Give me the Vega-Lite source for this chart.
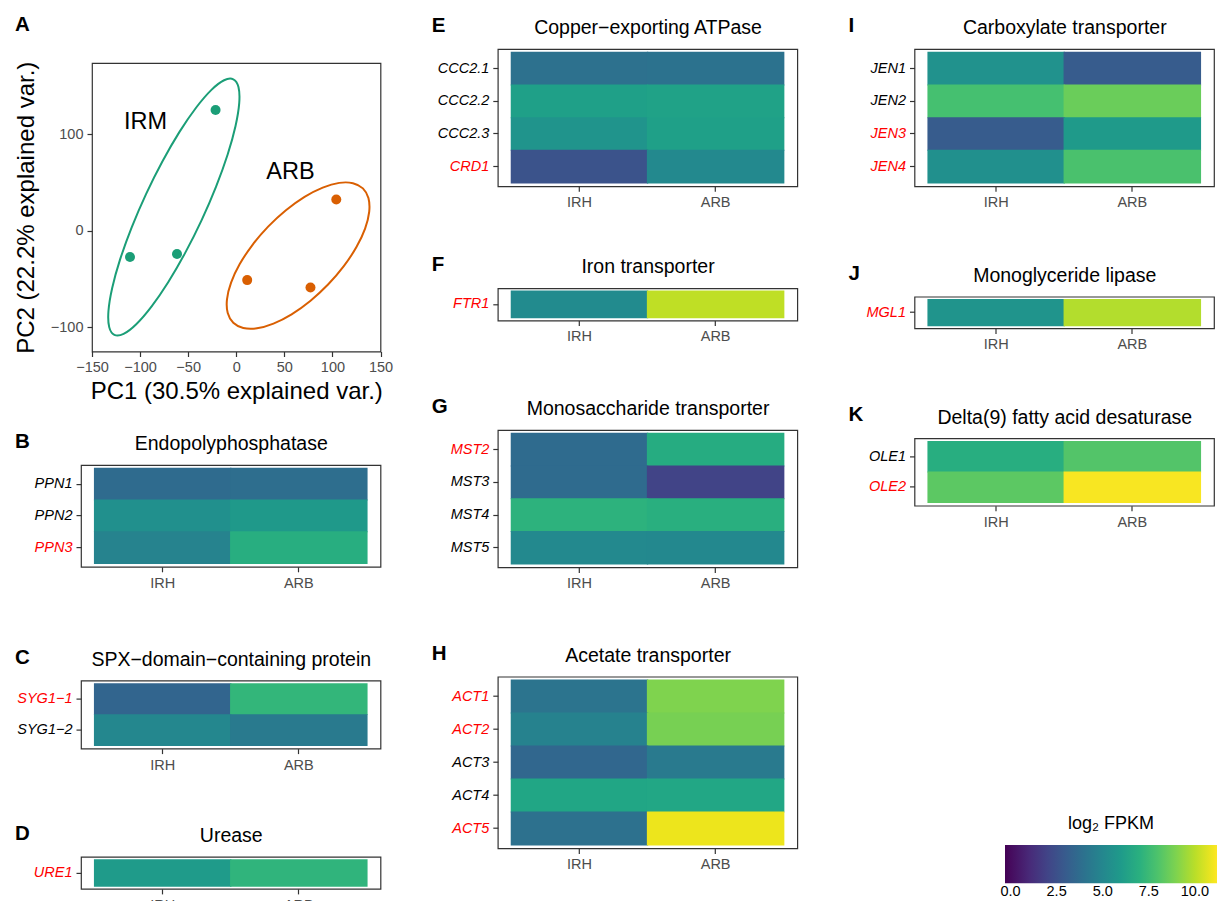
{
  "$schema": "https://vega.github.io/schema/vega-lite/v6.json",
  "background": "white",
  "padding": {"left": 12, "top": 13, "right": 5, "bottom": 5},
  "config": {
    "font": "Liberation Sans",
    "view": {"stroke": "#333333", "strokeWidth": 1.2},
    "axis": {"grid": false, "domain": false, "tickColor": "#333333", "tickWidth": 1.2, "tickSize": 5, "labelFont": "Liberation Sans", "labelFontSize": 14.5, "labelColor": "#4d4d4d", "titleFont": "Liberation Sans", "titleColor": "black", "titleFontWeight": "normal"},
    "axisX": {"labelPadding": 4.4, "labelAngle": 0},
    "axisY": {"labelPadding": 4},
    "legend": {"padding": 0, "titleFontSize": 18, "titleFontWeight": "normal", "titleColor": "black", "titleAnchor": "middle", "titlePadding": 11.7, "gradientLength": 212, "gradientThickness": 38.3, "gradientStrokeWidth": 0, "labelFontSize": 14.5, "labelColor": "black", "labelOffset": 3.8, "labelAlign": "center", "labelFont": "Liberation Sans", "titleFont": "Liberation Sans"}
  },
  "datasets": {
    "pca_points": [
      {"pc1": -21.5, "pc2": 125.3, "group": "IRM"},
      {"pc1": -110.5, "pc2": -27.3, "group": "IRM"},
      {"pc1": -61.6, "pc2": -24.2, "group": "IRM"},
      {"pc1": 11.4, "pc2": -51.2, "group": "ARB"},
      {"pc1": 77.2, "pc2": -58.9, "group": "ARB"},
      {"pc1": 104.0, "pc2": 32.5, "group": "ARB"}
    ],
    "pca_labels": [
      {"pc1": -94.4, "pc2": 105.6, "label": "IRM"},
      {"pc1": 56.3, "pc2": 53.7, "label": "ARB"}
    ],
    "pca_ellipse": [
      {"group": "IRM", "ord": 0, "pc1": -3.07, "pc2": 157.2},
      {"group": "IRM", "ord": 1, "pc1": -12.66, "pc2": 156.2},
      {"group": "IRM", "ord": 2, "pc1": -25.81, "pc2": 146.2},
      {"group": "IRM", "ord": 3, "pc1": -41.62, "pc2": 127.9},
      {"group": "IRM", "ord": 4, "pc1": -59.02, "pc2": 102.6},
      {"group": "IRM", "ord": 5, "pc1": -76.82, "pc2": 71.9},
      {"group": "IRM", "ord": 6, "pc1": -93.81, "pc2": 38.1},
      {"group": "IRM", "ord": 7, "pc1": -108.82, "pc2": 3.3},
      {"group": "IRM", "ord": 8, "pc1": -120.86, "pc2": -30.0},
      {"group": "IRM", "ord": 9, "pc1": -129.06, "pc2": -59.6},
      {"group": "IRM", "ord": 10, "pc1": -132.91, "pc2": -83.5},
      {"group": "IRM", "ord": 11, "pc1": -132.10, "pc2": -100.0},
      {"group": "IRM", "ord": 12, "pc1": -126.73, "pc2": -108.0},
      {"group": "IRM", "ord": 13, "pc1": -117.14, "pc2": -107.0},
      {"group": "IRM", "ord": 14, "pc1": -103.99, "pc2": -97.0},
      {"group": "IRM", "ord": 15, "pc1": -88.18, "pc2": -78.7},
      {"group": "IRM", "ord": 16, "pc1": -70.78, "pc2": -53.4},
      {"group": "IRM", "ord": 17, "pc1": -52.98, "pc2": -22.7},
      {"group": "IRM", "ord": 18, "pc1": -35.99, "pc2": 11.1},
      {"group": "IRM", "ord": 19, "pc1": -20.98, "pc2": 45.9},
      {"group": "IRM", "ord": 20, "pc1": -8.94, "pc2": 79.2},
      {"group": "IRM", "ord": 21, "pc1": -0.74, "pc2": 108.8},
      {"group": "IRM", "ord": 22, "pc1": 3.11, "pc2": 132.7},
      {"group": "IRM", "ord": 23, "pc1": 2.30, "pc2": 149.2},
      {"group": "ARB", "ord": 0, "pc1": 131.69, "pc2": 44.0},
      {"group": "ARB", "ord": 1, "pc1": 121.33, "pc2": 49.4},
      {"group": "ARB", "ord": 2, "pc1": 107.08, "pc2": 49.7},
      {"group": "ARB", "ord": 3, "pc1": 89.92, "pc2": 44.8},
      {"group": "ARB", "ord": 4, "pc1": 71.02, "pc2": 35.2},
      {"group": "ARB", "ord": 5, "pc1": 51.65, "pc2": 21.3},
      {"group": "ARB", "ord": 6, "pc1": 33.15, "pc2": 4.3},
      {"group": "ARB", "ord": 7, "pc1": 16.77, "pc2": -14.8},
      {"group": "ARB", "ord": 8, "pc1": 3.62, "pc2": -34.6},
      {"group": "ARB", "ord": 9, "pc1": -5.38, "pc2": -53.8},
      {"group": "ARB", "ord": 10, "pc1": -9.64, "pc2": -71.1},
      {"group": "ARB", "ord": 11, "pc1": -8.85, "pc2": -85.4},
      {"group": "ARB", "ord": 12, "pc1": -3.09, "pc2": -95.5},
      {"group": "ARB", "ord": 13, "pc1": 7.27, "pc2": -100.9},
      {"group": "ARB", "ord": 14, "pc1": 21.52, "pc2": -101.2},
      {"group": "ARB", "ord": 15, "pc1": 38.68, "pc2": -96.3},
      {"group": "ARB", "ord": 16, "pc1": 57.58, "pc2": -86.7},
      {"group": "ARB", "ord": 17, "pc1": 76.95, "pc2": -72.8},
      {"group": "ARB", "ord": 18, "pc1": 95.45, "pc2": -55.8},
      {"group": "ARB", "ord": 19, "pc1": 111.83, "pc2": -36.7},
      {"group": "ARB", "ord": 20, "pc1": 124.98, "pc2": -16.9},
      {"group": "ARB", "ord": 21, "pc1": 133.98, "pc2": 2.3},
      {"group": "ARB", "ord": 22, "pc1": 138.24, "pc2": 19.6},
      {"group": "ARB", "ord": 23, "pc1": 137.45, "pc2": 33.9}
    ],
    "expr": [
      {"panel": "B", "gene": "PPN1", "group": "IRH", "log2fpkm": 3.7},
      {"panel": "B", "gene": "PPN1", "group": "ARB", "log2fpkm": 3.8},
      {"panel": "B", "gene": "PPN2", "group": "IRH", "log2fpkm": 5.4},
      {"panel": "B", "gene": "PPN2", "group": "ARB", "log2fpkm": 5.9},
      {"panel": "B", "gene": "PPN3", "group": "IRH", "log2fpkm": 4.8},
      {"panel": "B", "gene": "PPN3", "group": "ARB", "log2fpkm": 6.9},
      {"panel": "C", "gene": "SYG1−1", "group": "IRH", "log2fpkm": 3.4},
      {"panel": "C", "gene": "SYG1−1", "group": "ARB", "log2fpkm": 7.3},
      {"panel": "C", "gene": "SYG1−2", "group": "IRH", "log2fpkm": 5.0},
      {"panel": "C", "gene": "SYG1−2", "group": "ARB", "log2fpkm": 4.4},
      {"panel": "D", "gene": "URE1", "group": "IRH", "log2fpkm": 6.0},
      {"panel": "D", "gene": "URE1", "group": "ARB", "log2fpkm": 7.2},
      {"panel": "E", "gene": "CCC2.1", "group": "IRH", "log2fpkm": 3.95},
      {"panel": "E", "gene": "CCC2.1", "group": "ARB", "log2fpkm": 4.0},
      {"panel": "E", "gene": "CCC2.2", "group": "IRH", "log2fpkm": 6.2},
      {"panel": "E", "gene": "CCC2.2", "group": "ARB", "log2fpkm": 6.3},
      {"panel": "E", "gene": "CCC2.3", "group": "IRH", "log2fpkm": 5.6},
      {"panel": "E", "gene": "CCC2.3", "group": "ARB", "log2fpkm": 6.2},
      {"panel": "E", "gene": "CRD1", "group": "IRH", "log2fpkm": 2.6},
      {"panel": "E", "gene": "CRD1", "group": "ARB", "log2fpkm": 5.1},
      {"panel": "F", "gene": "FTR1", "group": "IRH", "log2fpkm": 5.2},
      {"panel": "F", "gene": "FTR1", "group": "ARB", "log2fpkm": 10.1},
      {"panel": "G", "gene": "MST2", "group": "IRH", "log2fpkm": 3.7},
      {"panel": "G", "gene": "MST2", "group": "ARB", "log2fpkm": 6.8},
      {"panel": "G", "gene": "MST3", "group": "IRH", "log2fpkm": 3.7},
      {"panel": "G", "gene": "MST3", "group": "ARB", "log2fpkm": 2.0},
      {"panel": "G", "gene": "MST4", "group": "IRH", "log2fpkm": 7.1},
      {"panel": "G", "gene": "MST4", "group": "ARB", "log2fpkm": 6.95},
      {"panel": "G", "gene": "MST5", "group": "IRH", "log2fpkm": 5.1},
      {"panel": "G", "gene": "MST5", "group": "ARB", "log2fpkm": 5.05},
      {"panel": "H", "gene": "ACT1", "group": "IRH", "log2fpkm": 4.1},
      {"panel": "H", "gene": "ACT1", "group": "ARB", "log2fpkm": 9.0},
      {"panel": "H", "gene": "ACT2", "group": "IRH", "log2fpkm": 4.75},
      {"panel": "H", "gene": "ACT2", "group": "ARB", "log2fpkm": 8.85},
      {"panel": "H", "gene": "ACT3", "group": "IRH", "log2fpkm": 3.5},
      {"panel": "H", "gene": "ACT3", "group": "ARB", "log2fpkm": 4.4},
      {"panel": "H", "gene": "ACT4", "group": "IRH", "log2fpkm": 6.5},
      {"panel": "H", "gene": "ACT4", "group": "ARB", "log2fpkm": 6.55},
      {"panel": "H", "gene": "ACT5", "group": "IRH", "log2fpkm": 3.95},
      {"panel": "H", "gene": "ACT5", "group": "ARB", "log2fpkm": 10.9},
      {"panel": "I", "gene": "JEN1", "group": "IRH", "log2fpkm": 5.5},
      {"panel": "I", "gene": "JEN1", "group": "ARB", "log2fpkm": 3.0},
      {"panel": "I", "gene": "JEN2", "group": "IRH", "log2fpkm": 7.8},
      {"panel": "I", "gene": "JEN2", "group": "ARB", "log2fpkm": 8.6},
      {"panel": "I", "gene": "JEN3", "group": "IRH", "log2fpkm": 3.0},
      {"panel": "I", "gene": "JEN3", "group": "ARB", "log2fpkm": 5.95},
      {"panel": "I", "gene": "JEN4", "group": "IRH", "log2fpkm": 5.4},
      {"panel": "I", "gene": "JEN4", "group": "ARB", "log2fpkm": 7.9},
      {"panel": "J", "gene": "MGL1", "group": "IRH", "log2fpkm": 5.6},
      {"panel": "J", "gene": "MGL1", "group": "ARB", "log2fpkm": 9.9},
      {"panel": "K", "gene": "OLE1", "group": "IRH", "log2fpkm": 6.9},
      {"panel": "K", "gene": "OLE1", "group": "ARB", "log2fpkm": 8.1},
      {"panel": "K", "gene": "OLE2", "group": "IRH", "log2fpkm": 8.3},
      {"panel": "K", "gene": "OLE2", "group": "ARB", "log2fpkm": 11.1}
    ]
  },
  "spacing": 35.8,
  "hconcat": [
    {
      "spacing": 0,
      "vconcat": [
        {"width": 1, "height": 1, "data": {"values": []}, "mark": "point", "view": {"stroke": null}},
        {
          "spacing": 26.1,
          "vconcat": [
            {
              "spacing": 0,
              "hconcat": [
                {"width": 1, "height": 1, "data": {"values": []}, "mark": "point", "view": {"stroke": null}},
                {
                  "width": 288.5,
                  "height": 288.5,
                  "layer": [
                    {
                      "data": {"name": "pca_ellipse"},
                      "transform": [{"filter": "datum.group === 'IRM'"}],
                      "mark": {"type": "line", "interpolate": "cardinal-closed", "strokeWidth": 2, "color": "#1b9e77"},
                      "encoding": {
                        "x": {"field": "pc1", "type": "quantitative", "scale": {"domain": [-150, 150], "nice": false, "zero": false}, "axis": {"orient": "bottom", "values": [-150, -100, -50, 0, 50, 100, 150], "labelFlush": false, "title": "PC1 (30.5% explained var.)", "titleFontSize": 24, "titleBaseline": "alphabetic", "titleY": 46.6}},
                        "y": {"field": "pc2", "type": "quantitative", "scale": {"domain": [-125.3, 174.1], "nice": false, "zero": false}, "axis": {"orient": "left", "values": [-100, 0, 100], "title": "PC2 (22.2% explained var.)", "titleFontSize": 24, "titleBaseline": "alphabetic", "titleX": -58.5}},
                        "order": {"field": "ord", "type": "quantitative"}
                      }
                    },
                    {
                      "data": {"name": "pca_ellipse"},
                      "transform": [{"filter": "datum.group === 'ARB'"}],
                      "mark": {"type": "line", "interpolate": "cardinal-closed", "strokeWidth": 2, "color": "#d95f02"},
                      "encoding": {
                        "x": {"field": "pc1", "type": "quantitative", "scale": {"domain": [-150, 150], "nice": false, "zero": false}, "axis": null},
                        "y": {"field": "pc2", "type": "quantitative", "scale": {"domain": [-125.3, 174.1], "nice": false, "zero": false}, "axis": {"orient": "left", "values": [-100, 0, 100], "title": "PC2 (22.2% explained var.)", "titleFontSize": 24, "titleBaseline": "alphabetic", "titleX": -58.5}},
                        "order": {"field": "ord", "type": "quantitative"}
                      }
                    },
                    {
                      "data": {"name": "pca_points"},
                      "mark": {"type": "circle", "size": 100, "opacity": 1},
                      "encoding": {
                        "x": {"field": "pc1", "type": "quantitative", "scale": {"domain": [-150, 150], "nice": false, "zero": false}, "axis": null},
                        "y": {"field": "pc2", "type": "quantitative", "scale": {"domain": [-125.3, 174.1], "nice": false, "zero": false}, "axis": {"orient": "left", "values": [-100, 0, 100], "title": "PC2 (22.2% explained var.)", "titleFontSize": 24, "titleBaseline": "alphabetic", "titleX": -58.5}},
                        "fill": {"field": "group", "type": "nominal", "scale": {"domain": ["IRM", "ARB"], "range": ["#1b9e77", "#d95f02"]}, "legend": null}
                      }
                    },
                    {
                      "data": {"name": "pca_labels"},
                      "mark": {"type": "text", "fontSize": 23.5, "align": "center", "baseline": "alphabetic", "color": "black", "font": "Liberation Sans"},
                      "encoding": {
                        "x": {"field": "pc1", "type": "quantitative", "scale": {"domain": [-150, 150], "nice": false, "zero": false}, "axis": null},
                        "y": {"field": "pc2", "type": "quantitative", "scale": {"domain": [-125.3, 174.1], "nice": false, "zero": false}, "axis": {"orient": "left", "values": [-100, 0, 100], "title": "PC2 (22.2% explained var.)", "titleFontSize": 24, "titleBaseline": "alphabetic", "titleX": -58.5}},
                        "text": {"field": "label", "type": "nominal"}
                      }
                    },
                    {
                      "data": {"name": "pca_labels"},
                      "mark": {"type": "point", "opacity": 0},
                      "encoding": {
                        "x": {"field": "pc1", "type": "quantitative", "scale": {"domain": [-150, 150], "nice": false, "zero": false}, "axis": {"orient": "top", "title": "A", "labels": false, "ticks": false, "domain": false, "titleX": -77.4, "titleY": -32.3, "titleAngle": 0, "titleAlign": "left", "titleBaseline": "alphabetic", "titleFontSize": 20.5, "titleFontWeight": "bold"}}
                      }
                    }
                  ]
                }
              ]
            },
            {
              "spacing": 0,
              "hconcat": [
                {"width": 1, "height": 1, "data": {"values": []}, "mark": "point", "view": {"stroke": null}},
                {
                  "spacing": 54.5,
                  "vconcat": [
                    {
                      "width": 299.5, "height": 101.7,
                      "data": {"name": "expr"},
                      "transform": [{"filter": "datum.panel === 'B'"}],
                      "layer": [
                        {"mark": {"type": "rect", "width": {"band": 1.01}, "height": {"band": 1.03}},
                         "encoding": {
                           "x": {"field": "group", "type": "nominal", "sort": ["IRH", "ARB"], "scale": {"paddingInner": 0, "paddingOuter": 0.1}, "axis": {"orient": "bottom", "title": null}},
                           "y": {"field": "gene", "type": "nominal", "sort": null, "scale": {"paddingInner": 0, "paddingOuter": 0.1}, "axis": {"title": "B", "titleX": -66.5, "titleY": -17.6, "titleAngle": 0, "titleAlign": "left", "titleBaseline": "alphabetic", "titleFontSize": 20.5, "titleFontWeight": "bold", "labelFontStyle": "italic", "labelColor": {"condition": {"test": "indexof(['PPN3'], datum.value) >= 0", "value": "red"}, "value": "black"}}},
                           "color": {"field": "log2fpkm", "type": "quantitative", "title": "log₂ FPKM", "scale": {"scheme": "viridis", "domain": [-0.3, 11.2]}, "legend": {"orient": "none", "legendX": 993, "legendY": 802.3, "direction": "horizontal", "title": "log₂ FPKM", "values": [0, 2.5, 5, 7.5, 10], "format": ".1f"}}
                         }},
                        {"mark": {"type": "rect", "opacity": 0},
                         "encoding": {
                           "x": {"field": "group", "type": "nominal", "sort": ["IRH", "ARB"], "axis": {"orient": "top", "title": "Endopolyphosphatase", "labels": false, "ticks": false, "domain": false, "titleY": -15.4, "titleBaseline": "alphabetic", "titleFontSize": 19.5}}
                         }}
                      ]
                    },
                    {
                      "spacing": 108.3,
                      "bounds": "flush",
                      "vconcat": [
                        {
                          "width": 299.5, "height": 68,
                          "data": {"name": "expr"},
                          "transform": [{"filter": "datum.panel === 'C'"}],
                          "layer": [
                            {"mark": {"type": "rect", "width": {"band": 1.01}, "height": {"band": 1.03}},
                             "encoding": {
                               "x": {"field": "group", "type": "nominal", "sort": ["IRH", "ARB"], "scale": {"paddingInner": 0, "paddingOuter": 0.1}, "axis": {"orient": "bottom", "title": null}},
                               "y": {"field": "gene", "type": "nominal", "sort": null, "scale": {"paddingInner": 0, "paddingOuter": 0.1}, "axis": {"title": "C", "titleX": -66.5, "titleY": -17.6, "titleAngle": 0, "titleAlign": "left", "titleBaseline": "alphabetic", "titleFontSize": 20.5, "titleFontWeight": "bold", "labelFontStyle": "italic", "labelColor": {"condition": {"test": "indexof(['SYG1−1'], datum.value) >= 0", "value": "red"}, "value": "black"}}},
                               "color": {"field": "log2fpkm", "type": "quantitative", "title": "log₂ FPKM", "scale": {"scheme": "viridis", "domain": [-0.3, 11.2]}, "legend": {"orient": "none", "legendX": 993, "legendY": 802.3, "direction": "horizontal", "title": "log₂ FPKM", "values": [0, 2.5, 5, 7.5, 10], "format": ".1f"}}
                             }},
                            {"mark": {"type": "rect", "opacity": 0},
                             "encoding": {
                               "x": {"field": "group", "type": "nominal", "sort": ["IRH", "ARB"], "axis": {"orient": "top", "title": "SPX−domain−containing protein", "labels": false, "ticks": false, "domain": false, "titleY": -15.4, "titleBaseline": "alphabetic", "titleFontSize": 19.5}}
                             }}
                          ]
                        },
                        {
                          "width": 299.5, "height": 32,
                          "data": {"name": "expr"},
                          "transform": [{"filter": "datum.panel === 'D'"}],
                          "layer": [
                            {"mark": {"type": "rect", "width": {"band": 1.01}, "height": {"band": 1.03}},
                             "encoding": {
                               "x": {"field": "group", "type": "nominal", "sort": ["IRH", "ARB"], "scale": {"paddingInner": 0, "paddingOuter": 0.1}, "axis": {"orient": "bottom", "title": null}},
                               "y": {"field": "gene", "type": "nominal", "sort": null, "scale": {"paddingInner": 0, "paddingOuter": 0.1}, "axis": {"title": "D", "titleX": -66.5, "titleY": -17.6, "titleAngle": 0, "titleAlign": "left", "titleBaseline": "alphabetic", "titleFontSize": 20.5, "titleFontWeight": "bold", "labelFontStyle": "italic", "labelColor": {"condition": {"test": "indexof(['URE1'], datum.value) >= 0", "value": "red"}, "value": "black"}}},
                               "color": {"field": "log2fpkm", "type": "quantitative", "title": "log₂ FPKM", "scale": {"scheme": "viridis", "domain": [-0.3, 11.2]}, "legend": {"orient": "none", "legendX": 993, "legendY": 802.3, "direction": "horizontal", "title": "log₂ FPKM", "values": [0, 2.5, 5, 7.5, 10], "format": ".1f"}}
                             }},
                            {"mark": {"type": "rect", "opacity": 0},
                             "encoding": {
                               "x": {"field": "group", "type": "nominal", "sort": ["IRH", "ARB"], "axis": {"orient": "top", "title": "Urease", "labels": false, "ticks": false, "domain": false, "titleY": -15.4, "titleBaseline": "alphabetic", "titleFontSize": 19.5}}
                             }}
                          ]
                        }
                      ]
                    }
                  ]
                }
              ]
            }
          ]
        }
      ]
    },
    {
      "spacing": 47.7,
      "hconcat": [
        {
          "spacing": 0,
          "vconcat": [
            {"width": 1, "height": 1, "data": {"values": []}, "mark": "point", "view": {"stroke": null}},
            {
              "spacing": 43.3,
              "vconcat": [
                {
                  "width": 299.5, "height": 137.3,
                  "data": {"name": "expr"},
                  "transform": [{"filter": "datum.panel === 'E'"}],
                  "layer": [
                    {"mark": {"type": "rect", "width": {"band": 1.01}, "height": {"band": 1.03}},
                     "encoding": {
                       "x": {"field": "group", "type": "nominal", "sort": ["IRH", "ARB"], "scale": {"paddingInner": 0, "paddingOuter": 0.1}, "axis": {"orient": "bottom", "title": null}},
                       "y": {"field": "gene", "type": "nominal", "sort": null, "scale": {"paddingInner": 0, "paddingOuter": 0.1}, "axis": {"title": "E", "titleX": -66.5, "titleY": -17.6, "titleAngle": 0, "titleAlign": "left", "titleBaseline": "alphabetic", "titleFontSize": 20.5, "titleFontWeight": "bold", "labelFontStyle": "italic", "labelColor": {"condition": {"test": "indexof(['CRD1'], datum.value) >= 0", "value": "red"}, "value": "black"}}},
                       "color": {"field": "log2fpkm", "type": "quantitative", "title": "log₂ FPKM", "scale": {"scheme": "viridis", "domain": [-0.3, 11.2]}, "legend": {"orient": "none", "legendX": 993, "legendY": 802.3, "direction": "horizontal", "title": "log₂ FPKM", "values": [0, 2.5, 5, 7.5, 10], "format": ".1f"}}
                     }},
                    {"mark": {"type": "rect", "opacity": 0},
                     "encoding": {
                       "x": {"field": "group", "type": "nominal", "sort": ["IRH", "ARB"], "axis": {"orient": "top", "title": "Copper−exporting ATPase", "labels": false, "ticks": false, "domain": false, "titleY": -15.4, "titleBaseline": "alphabetic", "titleFontSize": 19.5}}
                     }}
                  ]
                },
                {
                  "spacing": 108.7,
                  "bounds": "flush",
                  "vconcat": [
                    {
                      "width": 299.5, "height": 32.3,
                      "data": {"name": "expr"},
                      "transform": [{"filter": "datum.panel === 'F'"}],
                      "layer": [
                        {"mark": {"type": "rect", "width": {"band": 1.01}, "height": {"band": 1.03}},
                         "encoding": {
                           "x": {"field": "group", "type": "nominal", "sort": ["IRH", "ARB"], "scale": {"paddingInner": 0, "paddingOuter": 0.1}, "axis": {"orient": "bottom", "title": null}},
                           "y": {"field": "gene", "type": "nominal", "sort": null, "scale": {"paddingInner": 0, "paddingOuter": 0.1}, "axis": {"title": "F", "titleX": -66.5, "titleY": -17.6, "titleAngle": 0, "titleAlign": "left", "titleBaseline": "alphabetic", "titleFontSize": 20.5, "titleFontWeight": "bold", "labelFontStyle": "italic", "labelColor": {"condition": {"test": "indexof(['FTR1'], datum.value) >= 0", "value": "red"}, "value": "black"}}},
                           "color": {"field": "log2fpkm", "type": "quantitative", "title": "log₂ FPKM", "scale": {"scheme": "viridis", "domain": [-0.3, 11.2]}, "legend": {"orient": "none", "legendX": 993, "legendY": 802.3, "direction": "horizontal", "title": "log₂ FPKM", "values": [0, 2.5, 5, 7.5, 10], "format": ".1f"}}
                         }},
                        {"mark": {"type": "rect", "opacity": 0},
                         "encoding": {
                           "x": {"field": "group", "type": "nominal", "sort": ["IRH", "ARB"], "axis": {"orient": "top", "title": "Iron transporter", "labels": false, "ticks": false, "domain": false, "titleY": -15.4, "titleBaseline": "alphabetic", "titleFontSize": 19.5}}
                         }}
                      ]
                    },
                    {
                      "width": 299.5, "height": 137.4,
                      "data": {"name": "expr"},
                      "transform": [{"filter": "datum.panel === 'G'"}],
                      "layer": [
                        {"mark": {"type": "rect", "width": {"band": 1.01}, "height": {"band": 1.03}},
                         "encoding": {
                           "x": {"field": "group", "type": "nominal", "sort": ["IRH", "ARB"], "scale": {"paddingInner": 0, "paddingOuter": 0.1}, "axis": {"orient": "bottom", "title": null}},
                           "y": {"field": "gene", "type": "nominal", "sort": null, "scale": {"paddingInner": 0, "paddingOuter": 0.1}, "axis": {"title": "G", "titleX": -66.5, "titleY": -17.6, "titleAngle": 0, "titleAlign": "left", "titleBaseline": "alphabetic", "titleFontSize": 20.5, "titleFontWeight": "bold", "labelFontStyle": "italic", "labelColor": {"condition": {"test": "indexof(['MST2'], datum.value) >= 0", "value": "red"}, "value": "black"}}},
                           "color": {"field": "log2fpkm", "type": "quantitative", "title": "log₂ FPKM", "scale": {"scheme": "viridis", "domain": [-0.3, 11.2]}, "legend": {"orient": "none", "legendX": 993, "legendY": 802.3, "direction": "horizontal", "title": "log₂ FPKM", "values": [0, 2.5, 5, 7.5, 10], "format": ".1f"}}
                         }},
                        {"mark": {"type": "rect", "opacity": 0},
                         "encoding": {
                           "x": {"field": "group", "type": "nominal", "sort": ["IRH", "ARB"], "axis": {"orient": "top", "title": "Monosaccharide transporter", "labels": false, "ticks": false, "domain": false, "titleY": -15.4, "titleBaseline": "alphabetic", "titleFontSize": 19.5}}
                         }}
                      ]
                    },
                    {
                      "width": 299.5, "height": 171.7,
                      "data": {"name": "expr"},
                      "transform": [{"filter": "datum.panel === 'H'"}],
                      "layer": [
                        {"mark": {"type": "rect", "width": {"band": 1.01}, "height": {"band": 1.03}},
                         "encoding": {
                           "x": {"field": "group", "type": "nominal", "sort": ["IRH", "ARB"], "scale": {"paddingInner": 0, "paddingOuter": 0.1}, "axis": {"orient": "bottom", "title": null}},
                           "y": {"field": "gene", "type": "nominal", "sort": null, "scale": {"paddingInner": 0, "paddingOuter": 0.1}, "axis": {"title": "H", "titleX": -66.5, "titleY": -17.6, "titleAngle": 0, "titleAlign": "left", "titleBaseline": "alphabetic", "titleFontSize": 20.5, "titleFontWeight": "bold", "labelFontStyle": "italic", "labelColor": {"condition": {"test": "indexof(['ACT1','ACT2','ACT5'], datum.value) >= 0", "value": "red"}, "value": "black"}}},
                           "color": {"field": "log2fpkm", "type": "quantitative", "title": "log₂ FPKM", "scale": {"scheme": "viridis", "domain": [-0.3, 11.2]}, "legend": {"orient": "none", "legendX": 993, "legendY": 802.3, "direction": "horizontal", "title": "log₂ FPKM", "values": [0, 2.5, 5, 7.5, 10], "format": ".1f"}}
                         }},
                        {"mark": {"type": "rect", "opacity": 0},
                         "encoding": {
                           "x": {"field": "group", "type": "nominal", "sort": ["IRH", "ARB"], "axis": {"orient": "top", "title": "Acetate transporter", "labels": false, "ticks": false, "domain": false, "titleY": -15.4, "titleBaseline": "alphabetic", "titleFontSize": 19.5}}
                         }}
                      ]
                    }
                  ]
                }
              ]
            }
          ]
        },
        {
          "spacing": 0,
          "vconcat": [
            {"width": 1, "height": 1, "data": {"values": []}, "mark": "point", "view": {"stroke": null}},
            {
              "spacing": 109.7,
              "bounds": "flush",
              "vconcat": [
                {
                  "width": 299.5, "height": 137.3,
                  "data": {"name": "expr"},
                  "transform": [{"filter": "datum.panel === 'I'"}],
                  "layer": [
                    {"mark": {"type": "rect", "width": {"band": 1.01}, "height": {"band": 1.03}},
                     "encoding": {
                       "x": {"field": "group", "type": "nominal", "sort": ["IRH", "ARB"], "scale": {"paddingInner": 0, "paddingOuter": 0.1}, "axis": {"orient": "bottom", "title": null}},
                       "y": {"field": "gene", "type": "nominal", "sort": null, "scale": {"paddingInner": 0, "paddingOuter": 0.1}, "axis": {"title": "I", "titleX": -66.5, "titleY": -17.6, "titleAngle": 0, "titleAlign": "left", "titleBaseline": "alphabetic", "titleFontSize": 20.5, "titleFontWeight": "bold", "labelFontStyle": "italic", "labelColor": {"condition": {"test": "indexof(['JEN3','JEN4'], datum.value) >= 0", "value": "red"}, "value": "black"}}},
                       "color": {"field": "log2fpkm", "type": "quantitative", "title": "log₂ FPKM", "scale": {"scheme": "viridis", "domain": [-0.3, 11.2]}, "legend": {"orient": "none", "legendX": 993, "legendY": 802.3, "direction": "horizontal", "title": "log₂ FPKM", "values": [0, 2.5, 5, 7.5, 10], "format": ".1f"}}
                     }},
                    {"mark": {"type": "rect", "opacity": 0},
                     "encoding": {
                       "x": {"field": "group", "type": "nominal", "sort": ["IRH", "ARB"], "axis": {"orient": "top", "title": "Carboxylate transporter", "labels": false, "ticks": false, "domain": false, "titleY": -15.4, "titleBaseline": "alphabetic", "titleFontSize": 19.5}}
                     }}
                  ]
                },
                {
                  "width": 299.5, "height": 31.7,
                  "data": {"name": "expr"},
                  "transform": [{"filter": "datum.panel === 'J'"}],
                  "layer": [
                    {"mark": {"type": "rect", "width": {"band": 1.01}, "height": {"band": 1.03}},
                     "encoding": {
                       "x": {"field": "group", "type": "nominal", "sort": ["IRH", "ARB"], "scale": {"paddingInner": 0, "paddingOuter": 0.1}, "axis": {"orient": "bottom", "title": null}},
                       "y": {"field": "gene", "type": "nominal", "sort": null, "scale": {"paddingInner": 0, "paddingOuter": 0.1}, "axis": {"title": "J", "titleX": -66.5, "titleY": -17.6, "titleAngle": 0, "titleAlign": "left", "titleBaseline": "alphabetic", "titleFontSize": 20.5, "titleFontWeight": "bold", "labelFontStyle": "italic", "labelColor": {"condition": {"test": "indexof(['MGL1'], datum.value) >= 0", "value": "red"}, "value": "black"}}},
                       "color": {"field": "log2fpkm", "type": "quantitative", "title": "log₂ FPKM", "scale": {"scheme": "viridis", "domain": [-0.3, 11.2]}, "legend": {"orient": "none", "legendX": 993, "legendY": 802.3, "direction": "horizontal", "title": "log₂ FPKM", "values": [0, 2.5, 5, 7.5, 10], "format": ".1f"}}
                     }},
                    {"mark": {"type": "rect", "opacity": 0},
                     "encoding": {
                       "x": {"field": "group", "type": "nominal", "sort": ["IRH", "ARB"], "axis": {"orient": "top", "title": "Monoglyceride lipase", "labels": false, "ticks": false, "domain": false, "titleY": -15.4, "titleBaseline": "alphabetic", "titleFontSize": 19.5}}
                     }}
                  ]
                },
                {
                  "width": 299.5, "height": 67.3,
                  "data": {"name": "expr"},
                  "transform": [{"filter": "datum.panel === 'K'"}],
                  "layer": [
                    {"mark": {"type": "rect", "width": {"band": 1.01}, "height": {"band": 1.03}},
                     "encoding": {
                       "x": {"field": "group", "type": "nominal", "sort": ["IRH", "ARB"], "scale": {"paddingInner": 0, "paddingOuter": 0.1}, "axis": {"orient": "bottom", "title": null}},
                       "y": {"field": "gene", "type": "nominal", "sort": null, "scale": {"paddingInner": 0, "paddingOuter": 0.1}, "axis": {"title": "K", "titleX": -66.5, "titleY": -17.6, "titleAngle": 0, "titleAlign": "left", "titleBaseline": "alphabetic", "titleFontSize": 20.5, "titleFontWeight": "bold", "labelFontStyle": "italic", "labelColor": {"condition": {"test": "indexof(['OLE2'], datum.value) >= 0", "value": "red"}, "value": "black"}}},
                       "color": {"field": "log2fpkm", "type": "quantitative", "title": "log₂ FPKM", "scale": {"scheme": "viridis", "domain": [-0.3, 11.2]}, "legend": {"orient": "none", "legendX": 993, "legendY": 802.3, "direction": "horizontal", "title": "log₂ FPKM", "values": [0, 2.5, 5, 7.5, 10], "format": ".1f"}}
                     }},
                    {"mark": {"type": "rect", "opacity": 0},
                     "encoding": {
                       "x": {"field": "group", "type": "nominal", "sort": ["IRH", "ARB"], "axis": {"orient": "top", "title": "Delta(9) fatty acid desaturase", "labels": false, "ticks": false, "domain": false, "titleY": -15.4, "titleBaseline": "alphabetic", "titleFontSize": 19.5}}
                     }}
                  ]
                }
              ]
            }
          ]
        }
      ]
    }
  ]
}
